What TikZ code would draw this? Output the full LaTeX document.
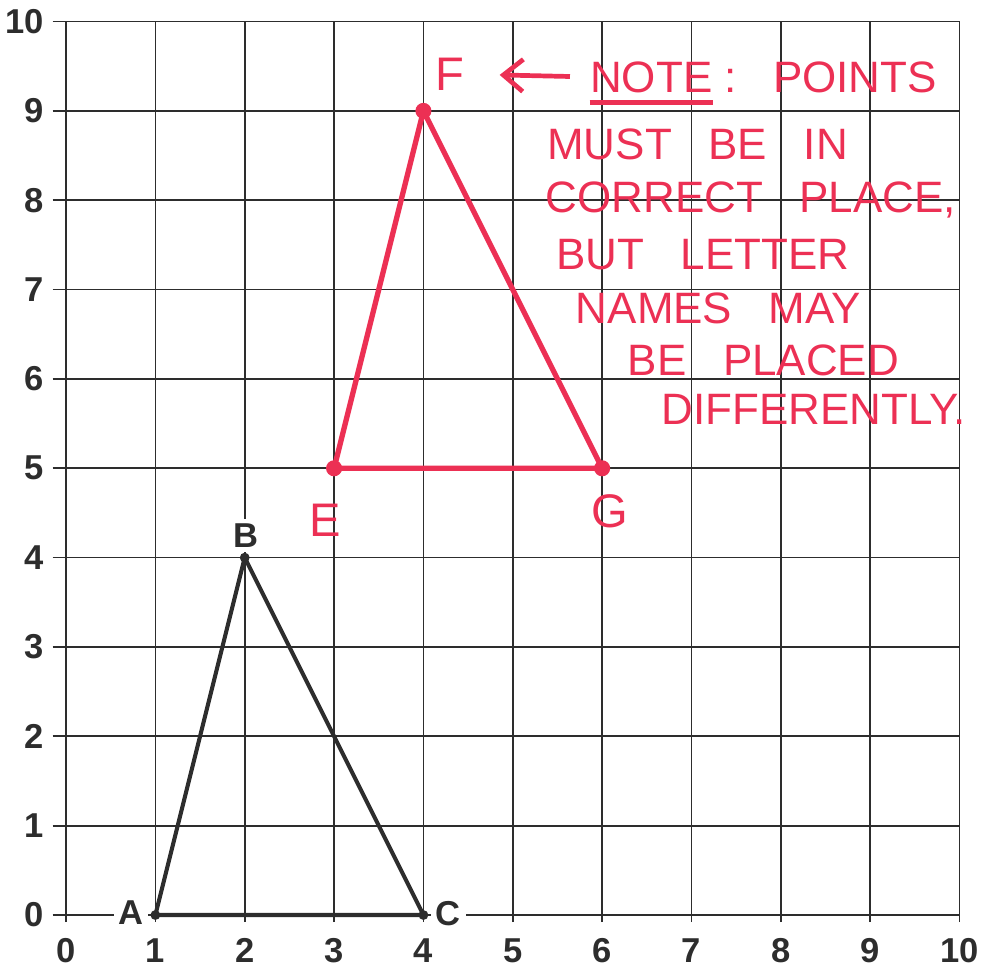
\documentclass[tikz,border=0pt]{standalone}
\usepackage{fontspec}
\setsansfont{Liberation Sans}
\newfontfamily\notefont[WordSpace=3]{Liberation Sans}
\usepackage{tikz}
\usetikzlibrary{arrows.meta, positioning}
\definecolor{ink}{RGB}{45,45,45}
\definecolor{pen}{RGB}{236,48,84}
\tikzstyle{gridline} = [ink, line width=0.55pt]
\tikzstyle{axislabel} = [font=\sffamily\bfseries\fontsize{11}{13}\selectfont, text=ink, inner sep=1pt]
\tikzstyle{ptlabel} = [axislabel, fill=white, inner sep=1.5pt]
\tikzstyle{penlabel} = [font=\notefont\fontsize{15}{17}\selectfont, text=pen, inner sep=1pt]
\tikzstyle{notetext} = [font=\notefont\fontsize{14}{16}\selectfont, text=pen, anchor=west, inner sep=0pt]
\tikzstyle{blackline} = [ink, line width=1.3pt, line join=round]
\tikzstyle{redline} = [pen, line width=1.7pt, line join=round]
\tikzstyle{notearrow} = [pen, line width=1.5pt, -{Straight Barb[length=2.2mm, width=3.6mm]}]

\begin{document}
\begin{tikzpicture}
    \useasboundingbox (-0.739,-0.604) rectangle (10.274,10.241);
    % Grid and axis numbers
    \foreach \i in {0,...,10} {
        \draw[gridline] (-0.15,\i) -- (10,\i);
        \draw[gridline] (\i,-0.08) -- (\i,10);
        \node[axislabel, anchor=east] (ylab\i) at (-0.21,\i) {\i};
        \node[axislabel] (xlab\i) at (\i,-0.40) {\i};
    }
    
    % Triangle ABC
    \coordinate (A) at (1,0);
    \coordinate (B) at (2,4);
    \coordinate (C) at (4,0);
    \draw[blackline] (A) -- (B) -- (C) -- cycle;
    \foreach \p in {A,B,C} \fill[ink] (\p) circle (0.055);
    \node[ptlabel, anchor=east] (labA) at (0.93,0.03) {A};
    \node[ptlabel] (labB) at (2.01,4.25) {B};
    \node[ptlabel, anchor=west] (labC) at (4.08,0.02) {C};
    
    % Triangle EFG
    \coordinate (E) at (3,5);
    \coordinate (F) at (4,9);
    \coordinate (G) at (6,5);
    \draw[redline] (E) -- (F) -- (G) -- cycle;
    \foreach \p in {E,F,G} \fill[pen] (\p) circle (0.09);
    \node[penlabel] (labE) at (2.90,4.42) {E};
    \node[penlabel] (labF) at (4.30,9.41) {F};
    \node[penlabel] (labG) at (6.09,4.52) {G};
    
    % Note
    \node[notetext] (noteword) at (5.86,9.38) {NOTE};
    \node[notetext, right=0.12cm of noteword] (notepoints) {:\ POINTS};
    \draw[redline] ([yshift=-3pt]noteword.south west) -- ([yshift=-3pt]noteword.south east);
    \draw[notearrow, shorten <=0.22cm, shorten >=0.35cm] (noteword.west) -- (labF.east);
    \node[notetext] (note2) at (5.38,8.62) {MUST BE IN};
    \node[notetext] (note3) at (5.36,8.00) {CORRECT PLACE,};
    \node[notetext] (note4) at (5.48,7.39) {BUT LETTER};
    \node[notetext] (note5) at (5.70,6.79) {NAMES MAY};
    \node[notetext] (note6) at (6.28,6.21) {BE PLACED};
    \node[notetext] (note7) at (6.66,5.66) {DIFFERENTLY.};
\end{tikzpicture}
\end{document}
